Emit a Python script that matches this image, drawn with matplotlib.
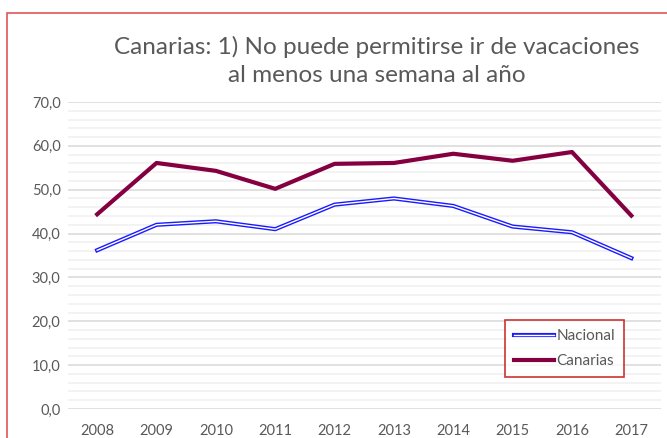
import matplotlib
matplotlib.use('Agg')
import matplotlib.pyplot as plt
import matplotlib.patheffects as pe
from matplotlib.patches import Rectangle
from matplotlib.ticker import MultipleLocator, FuncFormatter

years = ['2008', '2009', '2010', '2011', '2012', '2013', '2014', '2015', '2016', '2017']
nacional = [36.2, 42.0, 42.8, 41.0, 46.6, 48.0, 46.3, 41.6, 40.3, 34.4]
canarias = [44.4, 56.1, 54.3, 50.2, 55.9, 56.1, 58.2, 56.6, 58.6, 44.1]

title = 'Canarias: 1) No puede permitirse ir de vacaciones\nal menos una semana al año'

plt.rcParams['font.family'] = ['Lato', 'DejaVu Sans']

W, H = 667, 438
fig = plt.figure(figsize=(W / 100, H / 100), dpi=100)

# chart border (cropped on right and bottom in the original)
fig.patches.append(Rectangle((7 / W, -0.1), 1.2, 1 - 13 / H + 0.1, transform=fig.transFigure,
                             fill=False, edgecolor='#E05555', linewidth=1.2))

ax = fig.add_axes([67.5 / W, 1 - 409 / H, (661 - 67.5) / W, (409 - 102) / H])
x = range(len(years))

ax.plot(x, nacional, color='white', linewidth=1.0, label='Nacional',
        path_effects=[pe.Stroke(linewidth=3.0, foreground='#1A1AFF'), pe.Normal()])
ax.plot(x, canarias, color='#850040', linewidth=3.0, label='Canarias')

ax.set_xlim(-0.5, len(years) - 0.5)
ax.set_ylim(0, 70)
ax.set_xticks(list(x))
ax.set_xticklabels(years)
ax.yaxis.set_major_locator(MultipleLocator(10))
ax.yaxis.set_minor_locator(MultipleLocator(2))
ax.yaxis.set_major_formatter(FuncFormatter(lambda v, p: f'{v:.1f}'.replace('.', ',')))
ax.grid(axis='y', which='major', color='#D9D9D9', linewidth=1.1)
ax.grid(axis='y', which='minor', color='#F0F0F0', linewidth=1.1)
ax.set_axisbelow(True)
for s in ax.spines.values():
    s.set_visible(False)
ax.tick_params(which='both', length=0, labelsize=10.5, labelcolor='#595959')
ax.tick_params(axis='x', pad=11)
ax.tick_params(axis='y', pad=5)

fig.text(377 / W, 1 - 61 / H, title, ha='center', va='center', fontsize=17.5,
         color='#595959', linespacing=1.4)

leg = ax.legend(loc='upper left', bbox_to_anchor=((505 - 67.5) / (661 - 67.5), (409 - 320) / (409 - 102)),
                frameon=True, fancybox=False, fontsize=11, handlelength=2.6,
                handletextpad=0.15, labelspacing=0.7, borderpad=0.6, borderaxespad=0)
leg.get_frame().set_edgecolor('#C00000')
leg.get_frame().set_linewidth(1.2)
for t in leg.get_texts():
    t.set_color('#595959')

fig.savefig('out.png', dpi=100)
